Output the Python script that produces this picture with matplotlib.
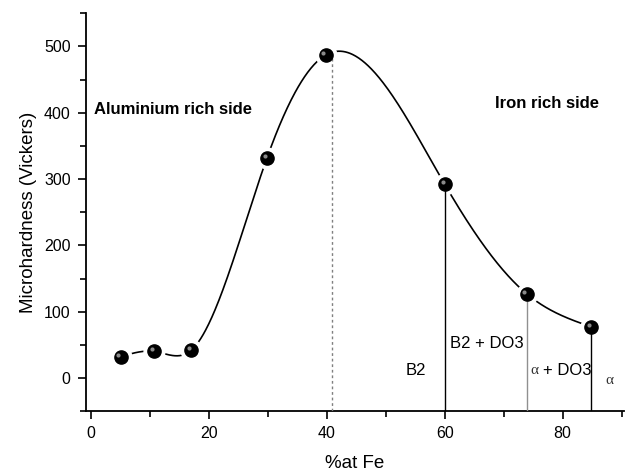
import numpy as np
import matplotlib.pyplot as plt
from matplotlib.ticker import MultipleLocator
from matplotlib import transforms

plt.rcParams['font.family'] = ['Liberation Sans', 'DejaVu Sans']

fe = [5, 10.7, 17, 29.8, 39.8, 60, 73.9, 84.9]
hv = [32, 40, 42, 331, 487, 292, 127, 77]

peak_x = 40.8
phase_x = [60, 73.9, 84.9]
phase_y = [292, 127, 77]
phase_col = ['black', '#909090', 'black']


def natural_spline(x, y, xs):
    x = np.asarray(x, float)
    y = np.asarray(y, float)
    n = len(x)
    h = np.diff(x)
    A = np.zeros((n, n))
    b = np.zeros(n)
    A[0, 0] = 1
    A[-1, -1] = 1
    for i in range(1, n - 1):
        A[i, i - 1] = h[i - 1]
        A[i, i] = 2 * (h[i - 1] + h[i])
        A[i, i + 1] = h[i]
        b[i] = 6 * ((y[i + 1] - y[i]) / h[i] - (y[i] - y[i - 1]) / h[i - 1])
    M = np.linalg.solve(A, b)
    out = np.zeros_like(xs)
    for k, t in enumerate(xs):
        i = min(max(np.searchsorted(x, t) - 1, 0), n - 2)
        a = x[i + 1] - t
        c = t - x[i]
        out[k] = (M[i] * a**3 + M[i + 1] * c**3) / (6 * h[i]) \
            + (y[i] / h[i] - M[i] * h[i] / 6) * a \
            + (y[i + 1] / h[i] - M[i + 1] * h[i] / 6) * c
    return out


fig = plt.figure(figsize=(6.27, 4.71), dpi=100)
ax = fig.add_axes([0.137, 0.127, 0.858, 0.845])

xs = np.linspace(fe[0], fe[-1], 600)
ax.plot(xs, natural_spline(fe, hv, xs), color='black', lw=1.2, zorder=2)

# white rings leave a small gap between curve and balls
ax.plot(fe, hv, 'o', ms=15, color='white', zorder=3)

ax.plot([peak_x, peak_x], [-50, hv[4]], color='#808080', lw=1, ls=(0, (2, 2)), zorder=4)
for px, py, c in zip(phase_x, phase_y, phase_col):
    ax.plot([px, px], [-50, py], color=c, lw=1, zorder=4)

ax.plot(fe, hv, 'o', ms=9.5, color='black', zorder=5)
hl = transforms.offset_copy(ax.transData, fig=fig, x=-1.6, y=1.6, units='points')
ax.plot(fe, hv, 'o', ms=3, color='#8a8a8a', mec='none', transform=hl, zorder=6)

ax.text(0.5, 405, 'Aluminium rich side', fontsize=12, fontweight='bold', va='center')
ax.text(68.6, 414, 'Iron rich side', fontsize=12, fontweight='bold', va='center')
ax.text(55.1, 12, 'B2', fontsize=12, ha='center', va='center')
ax.text(67.2, 52, 'B2 + DO3', fontsize=12, ha='center', va='center')
ax.text(74.5, 12, 'α', fontsize=11, family=['Liberation Serif'], va='center', color='#333333')
ax.text(76.7, 12, '+ DO3', fontsize=12, va='center')
ax.text(87.9, -4, 'α', fontsize=11, family=['Liberation Serif'], ha='center', va='center', color='#333333')

ax.set_xlim(-0.9, 90.4)
ax.set_ylim(-50, 550)
ax.xaxis.set_major_locator(MultipleLocator(20))
ax.xaxis.set_minor_locator(MultipleLocator(10))
ax.yaxis.set_major_locator(MultipleLocator(100))
ax.yaxis.set_minor_locator(MultipleLocator(50))
ax.set_yticks([0, 100, 200, 300, 400, 500])

for s in ['top', 'right']:
    ax.spines[s].set_visible(False)
for s in ['left', 'bottom']:
    ax.spines[s].set_linewidth(1.3)
ax.tick_params(which='major', direction='out', length=6, width=1.2, labelsize=11.5, pad=5)
ax.tick_params(which='minor', direction='out', length=4, width=1.2)

ax.set_xlabel('%at Fe', fontsize=13.5, labelpad=10)
ax.set_ylabel('Microhardness (Vickers)', fontsize=13.5, labelpad=5)

fig.savefig('out.png', dpi=100)
